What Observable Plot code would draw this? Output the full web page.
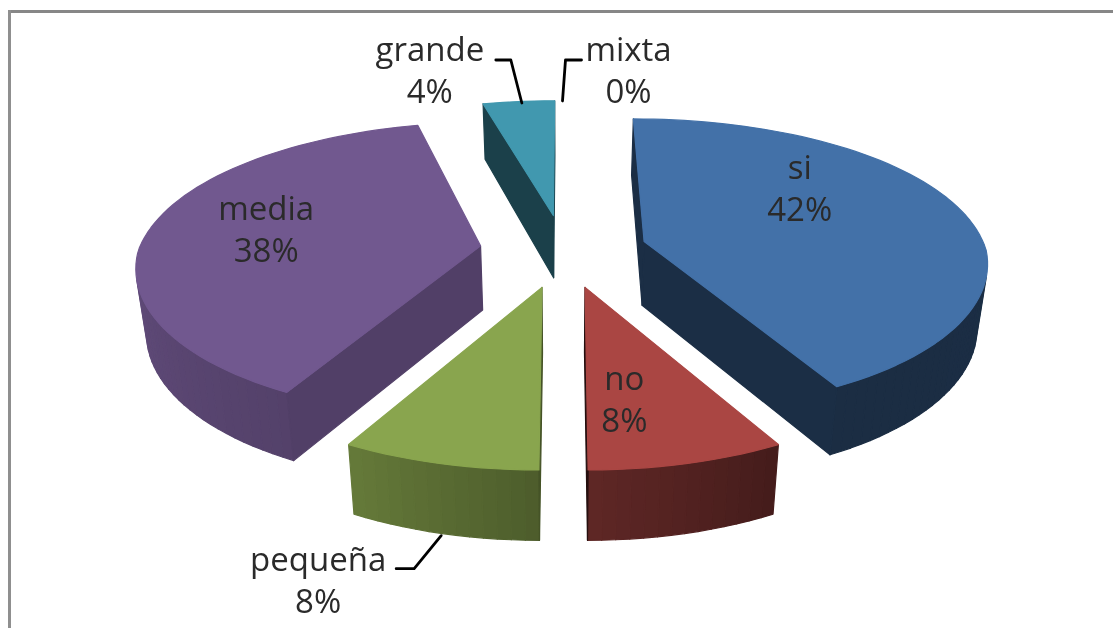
<!DOCTYPE html>
<html><head><meta charset="utf-8">
<script src="https://cdn.jsdelivr.net/npm/d3@7"></script>
<script src="https://cdn.jsdelivr.net/npm/@observablehq/plot@0.6"></script>
<style>html,body{margin:0;padding:0;background:#fff;overflow:hidden}svg{display:block;filter:blur(.7px)}</style>
</head><body><div id="chart"></div>
<script>
// data
const categories = ["si","no","pequeña","media","grande","mixta"];
const percents   = [42,8,8,38,4,0];
// styling
const topColors  = ["#4371a8","#aa4643","#89a54e","#71588f","#4198af","#db843d"];
const radialShade = [.41,.22,.5,.72,.42,.4];
// label placement: fraction of the radius along the bisector, then a nudge
const labelFrac  = [.6,.6,1.2,.6,1.2,1.2];
const labelNudge = [[-35,-34],[-19,10],[-97,74],[-15,-7],[-83,-14],[65,-13]];
const leaderPath = {grande:[[66,-9],[81,-9],[92,34]],mixta:[[-47,-9],[-63,-9],[-66,32]],"pequeña":[[78,-10],[96,-10],[123,-43]]};

// 3-D pie projection
const W=1113,H=628,cx=563,cy=250,R=342,E=84,T=.44,D=2800,DXB=2200,DYB=1700,DEPTH=66,SHRINK=.975;
const rad=d=>d*Math.PI/180;
function proj(X,Z,bottom){
  let sx=Z<0?DXB/(DXB-Z):D/(D-Z), sy=Z<0?DYB/(DYB-Z):D/(D-Z);
  if(bottom){sx*=SHRINK;sy*=SHRINK;}
  return [cx+X*sx, cy+(Z*T+(bottom?DEPTH:0))*sy];
}
const wallShade=d3.scaleLinear().domain([0,151,180,209,270,360]).range([.41,.4,.56,.74,.86,.86]);
const shade=(c,f)=>{const k=d3.rgb(c);return d3.rgb(k.r*f,k.g*f,k.b*f).formatHex();};
const area=p=>d3.sum(p,(q,i)=>{const n=p[(i+1)%p.length];return q[0]*n[1]-n[0]*q[1];});

const polys=[];let pid=0;
function addPoly(pts,fill){const id=pid++;pts.forEach(p=>polys.push({id,fill,x:p[0],y:p[1]}));}
const total=d3.sum(percents);
let acc=0;
const slices=categories.map((name,i)=>{
  const a0=acc/total*360;acc+=percents[i];const a1=acc/total*360;
  return {name,i,a0,a1,mid:(a0+a1)/2,value:percents[i]};
});
for(const sl of slices){
  if(!sl.value) continue;
  const ox=E*Math.sin(rad(sl.mid)),oz=-E*Math.cos(rad(sl.mid));
  const pt=(a,r)=>[ox+r*Math.sin(rad(a)),oz-r*Math.cos(rad(a))];
  const n=Math.max(4,Math.round((sl.a1-sl.a0)/2));
  const angles=d3.range(n+1).map(k=>sl.a0+(sl.a1-sl.a0)*k/n);
  const color=topColors[sl.i];
  const quad=(a,b,fill)=>{
    const q=[proj(...a,false),proj(...b,false),proj(...b,true),proj(...a,true)];
    if(area(q)<0) addPoly(q,fill);
  };
  const apex=[ox,oz];
  for(let k=0;k<n;k++){
    const m=(angles[k]+angles[k+1])/2;
    quad(pt(angles[k],R),pt(angles[k+1],R),shade(color,wallShade(m)));
  }
  const rs=shade(color,radialShade[sl.i]);
  quad(apex,pt(sl.a0,R),rs);
  quad(pt(sl.a1,R),apex,rs);
  addPoly([proj(...apex,false),...angles.map(a=>proj(...pt(a,R),false))],color);
}
const labels=slices.map(sl=>{
  const r=E+R*labelFrac[sl.i];
  const p=proj(r*Math.sin(rad(sl.mid)),-r*Math.cos(rad(sl.mid)),false);
  return {name:sl.name,text:`${sl.name}\n${sl.value}%`,x:p[0]+labelNudge[sl.i][0],y:p[1]+labelNudge[sl.i][1]};
});
const leaders=labels.flatMap(l=>(leaderPath[l.name]||[]).map(o=>({name:l.name,x:l.x+o[0],y:l.y+o[1]})));

const chart=Plot.plot({
  width:W,height:H,margin:0,
  style:{background:"#fff",fontFamily:"'Open Sans', sans-serif"},
  x:{domain:[0,W],range:[0,W],axis:null},
  y:{domain:[0,H],range:[0,H],axis:null},
  color:{type:"identity"},
  marks:[
    Plot.ruleY([11],{x1:8,x2:W,stroke:"#878787",strokeWidth:3}),
    Plot.ruleX([9],{y1:10,y2:H,stroke:"#8f8f8f",strokeWidth:3}),
    Plot.line(polys,{x:"x",y:"y",z:"id",fill:"fill",stroke:"fill",strokeWidth:1.2,curve:"linear-closed"}),
    Plot.line(leaders,{x:"x",y:"y",z:"name",stroke:"#000",strokeWidth:2.8,curve:"linear"}),
    Plot.text(labels,{x:"x",y:"y",text:"text",fontSize:33,lineHeight:1.27,fill:"#2a2a2a",textAnchor:"middle",lineAnchor:"middle"})
  ]
});
document.getElementById("chart").appendChild(chart);
</script></body></html>
